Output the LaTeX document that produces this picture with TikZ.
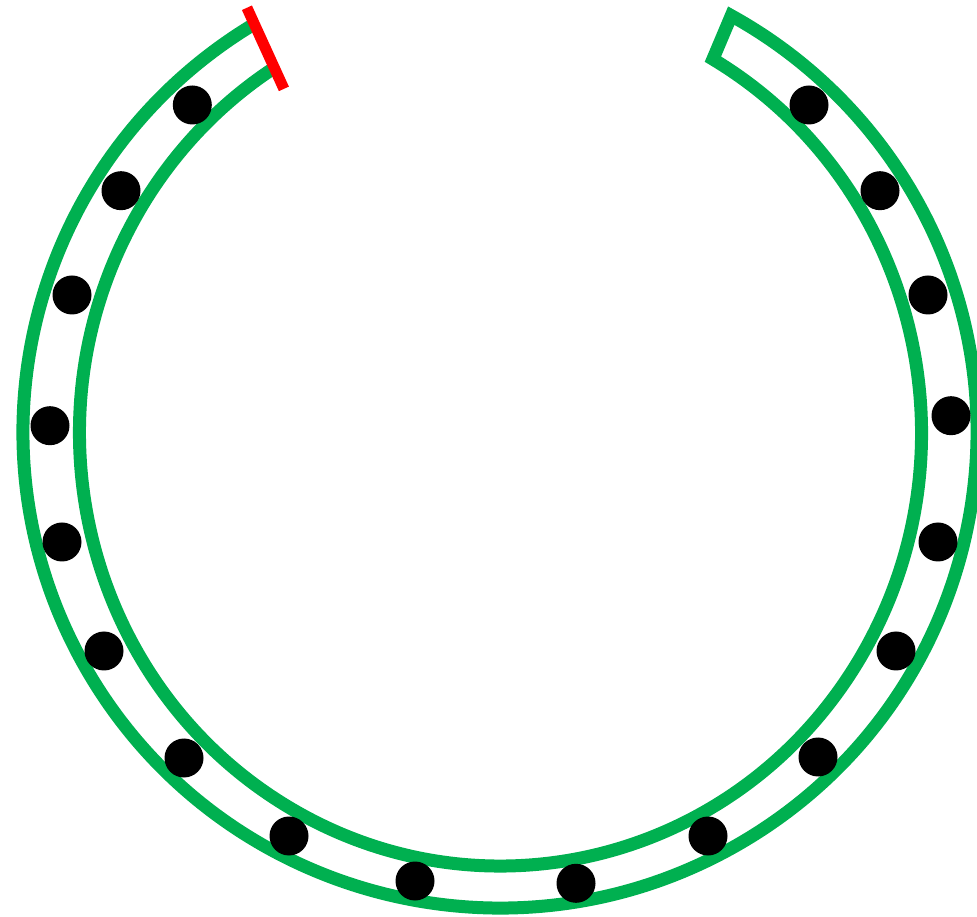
\documentclass[tikz,border=0pt]{standalone}
\usetikzlibrary{calc}
\definecolor{ringgreen}{HTML}{00B050}
\definecolor{capred}{HTML}{FF0000}
\begin{document}
\begin{tikzpicture}[x=1pt,y=1pt,
  ring/.style={draw=ringgreen, line width=13pt, line join=miter},
  bead/.style={circle, fill=black, minimum size=39pt, inner sep=0pt},
  capline/.style={draw=capred, line width=11pt}]
\useasboundingbox (0,0) rectangle (977,916);
\coordinate (OC) at (500,484);
\coordinate (IC) at (500.5,483);
\coordinate (O1) at ($(OC)+(121:477 and 476)$);
\coordinate (I1) at ($(IC)+(122.5:421 and 433)$);
\coordinate (I2) at ($(IC)+(59.7:421 and 433)$);
% green horseshoe band
\draw[ring] (O1) arc[start angle=121, end angle=421, x radius=477, y radius=476]
  -- (I2) arc[start angle=419.7, end angle=122.5, x radius=421, y radius=433];
% red end cap
\coordinate (R1) at ($(O1)!-0.37!(I1)$);
\coordinate (R2) at ($(I1)!-0.48!(O1)$);
\draw[capline] (R1) -- (R2);
% beads (image y converted: 916 - y)
\node[bead] (l1) at (192.3,811) {};
\node[bead] (l2) at (121,725.3) {};
\node[bead] (l3) at (72,621) {};
\node[bead] (l4) at (50,490.3) {};
\node[bead] (l5) at (62,374) {};
\node[bead] (l6) at (104,265) {};
\node[bead] (l7) at (184,158) {};
\node[bead] (l8) at (289,80) {};
\node[bead] (l9) at (415,35) {};
\node[bead] (r1) at (809,811) {};
\node[bead] (r2) at (880,725.3) {};
\node[bead] (r3) at (928,621) {};
\node[bead] (r4) at (951,500.3) {};
\node[bead] (r5) at (938,374) {};
\node[bead] (r6) at (896,265) {};
\node[bead] (r7) at (818,159) {};
\node[bead] (r8) at (708,80) {};
\node[bead] (r9) at (576,32.7) {};
\end{tikzpicture}
\end{document}
